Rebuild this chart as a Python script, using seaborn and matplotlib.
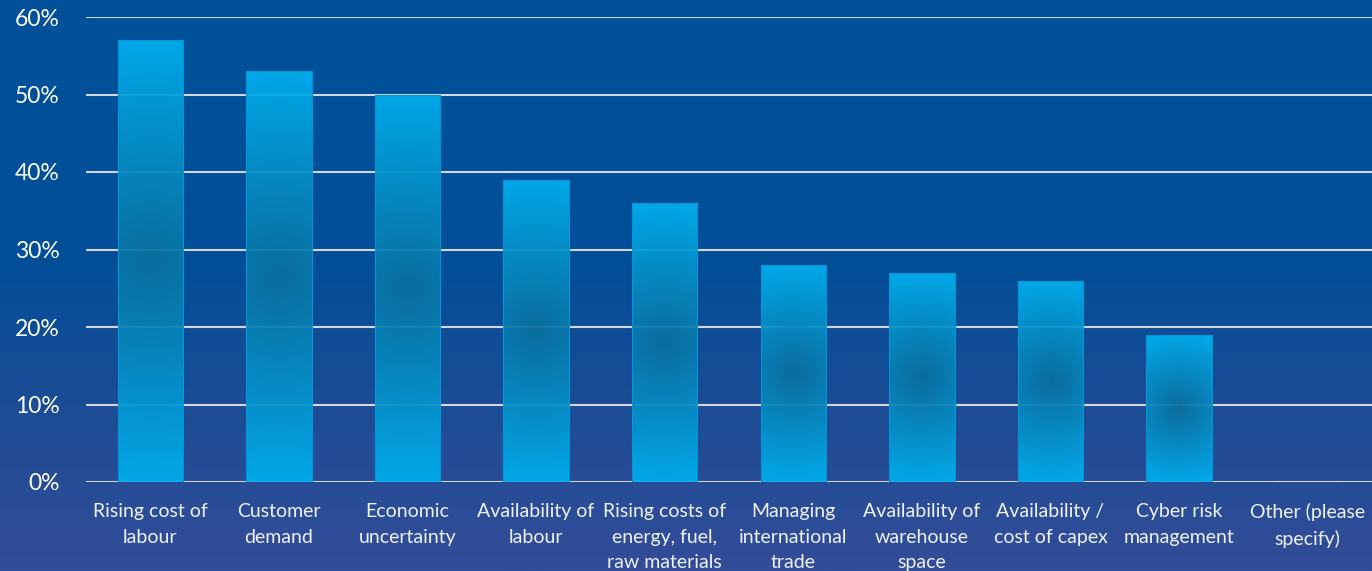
import numpy as np
import matplotlib
matplotlib.use("Agg")
import matplotlib.pyplot as plt
from matplotlib.colors import to_rgb
import seaborn as sns

# Survey results: share of respondents naming each challenge
categories = [
    "Rising cost of\nlabour",
    "Customer\ndemand",
    "Economic\nuncertainty",
    "Availability of\nlabour",
    "Rising costs of\nenergy, fuel,\nraw materials",
    "Managing\ninternational\ntrade",
    "Availability of\nwarehouse\nspace",
    "Availability /\ncost of capex",
    "Cyber risk\nmanagement",
    "Other (please\nspecify)",
]
values = [57, 53, 50, 39, 36, 28, 27, 26, 19, 0]
y_ticks = [0, 10, 20, 30, 40, 50, 60]
y_tick_labels = [f"{t}%" for t in y_ticks]

sns.set_theme(style="white")
plt.rcParams["font.family"] = ["Lato", "DejaVu Sans"]

W, H, DPI = 1372, 571, 100
fig = plt.figure(figsize=(W / DPI, H / DPI), dpi=DPI)

# Background: deep blue fading to a slightly violet blue toward the bottom
bg_ax = fig.add_axes([0, 0, 1, 1], zorder=-5)
stops_pos = np.array([0.0, 0.45, 0.75, 1.0])
stop_cols = np.array([to_rgb("#00519b"), to_rgb("#014f98"), to_rgb("#1f4c95"), to_rgb("#344d98")])
t = np.linspace(0, 1, 300)
grad = np.stack([np.interp(t, stops_pos, stop_cols[:, k]) for k in range(3)], axis=-1)
bg_ax.imshow(grad[:, None, :], aspect="auto", extent=(0, 1, 0, 1), origin="upper")
bg_ax.set_axis_off()

left_px, right_px, top_px, base_px = 86, 1372, 17, 482
ax = fig.add_axes([left_px / W, (H - base_px) / H, (right_px - left_px) / W, (base_px - top_px) / H])
ax.set_facecolor("none")

sns.barplot(x=categories, y=values, color="#00b0f0", width=0.51, saturation=1, ax=ax, zorder=3)

ax.set_ylim(0, 60)
ax.set_xlim(-0.5, len(categories) - 0.5)
ax.set_yticks(y_ticks)
ax.set_yticklabels(y_tick_labels)
ax.yaxis.grid(True, color="#d4d6dc", linewidth=1.5, zorder=1)
ax.set_axisbelow(True)
for s in ax.spines.values():
    s.set_visible(False)
ax.tick_params(axis="y", length=0, pad=19, labelsize=16.5, labelcolor="white")
ax.tick_params(axis="x", length=0, pad=15, labelsize=14, labelcolor="#eef2fa")
for lbl in ax.get_xticklabels():
    lbl.set_linespacing(1.62)
ax.set_xlabel("")
ax.set_ylabel("")

# Fill each bar with a radial shading: bright cyan at the ends, darker at mid-height
bright = np.array(to_rgb("#00b0f0"))
dark = np.array(to_rgb("#0a6f9e"))
px_per_unit_y = (base_px - top_px) / 60.0
px_per_unit_x = (right_px - left_px) / len(categories)
for patch in ax.patches:
    h = patch.get_height()
    if h <= 0:
        continue
    x0, w = patch.get_x(), patch.get_width()
    ny, nx = 240, 60
    ys = np.linspace(h, 0, ny)
    xs = np.linspace(x0, x0 + w, nx)
    X, Y = np.meshgrid(xs, ys)
    dx = (X - (x0 + w / 2)) * px_per_unit_x
    dy = (Y - h / 2) * px_per_unit_y
    R = h / 2 * px_per_unit_y * 1.02
    d = np.sqrt(dx ** 2 + dy ** 2) / R
    f = np.clip(1 - d, 0, 1) ** 0.95
    rgb = bright[None, None, :] * (1 - f[..., None]) + dark[None, None, :] * f[..., None]
    rgba = np.concatenate([rgb, np.full(f.shape + (1,), 0.93)], axis=-1)
    patch.set_facecolor("none")
    patch.set_edgecolor("#0a94d6")
    patch.set_linewidth(0.8)
    im = ax.imshow(rgba, extent=(x0, x0 + w, 0, h), aspect="auto", zorder=2.5,
                   interpolation="bilinear")
    im.set_clip_path(patch)

ax.set_ylim(0, 60)
ax.set_xlim(-0.5, len(categories) - 0.5)

fig.savefig("out.png", dpi=DPI)
